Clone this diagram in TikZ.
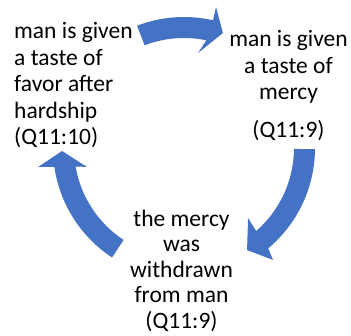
\documentclass[tikz,border=0pt]{standalone}
\usepackage{fontspec}
\setmainfont{Carlito}
\definecolor{smartblue}{HTML}{4472C4}
\tikzset{
  cyclearrow/.style={fill=smartblue, draw=none},
  cycletext/.style={inner sep=0pt, font=\fontsize{23.5pt}{26.5pt}\selectfont, text=black}
}
\begin{document}
\begin{tikzpicture}[x=1pt,y=1pt]
\useasboundingbox (0,0) rectangle (351,335);
% texts (base anchor = baseline of the last line)
\node[cycletext, align=left, anchor=base west] (favor) at (14,190)
  {man is given\\a taste of\\favor after\\hardship\\(Q11:10)};
\node[cycletext, align=center, anchor=base] (mercy) at (288.5,197.5)
  {man is given\\a taste of\\mercy\\[11pt](Q11:9)};
\node[cycletext, font=\fontsize{23.5pt}{25.5pt}\selectfont, align=center, anchor=base] (withdrawn) at (181.5,7)
  {the mercy\\was\\withdrawn\\from man\\(Q11:9)};
% circular arrows
\begin{scope}[shift={(184,187)}]
  \fill[cyclearrow] (111:131pt) arc[start angle=111, end angle=77.2, radius=131pt]
    -- (77.2:144.6pt) -- (71.3:121.4pt) -- (81.6:96pt) -- (78.3:110pt)
    arc[start angle=78.3, end angle=111, radius=110pt] -- cycle;
  \fill[cyclearrow] (-0.5:131pt) arc[start angle=-0.5, end angle=-50, radius=131pt]
    -- (-51.5:143pt) -- (-58.3:120pt) -- (-47.6:95pt) -- (-49:110pt)
    arc[start angle=-49, end angle=-0.5, radius=110pt] -- cycle;
  \fill[cyclearrow] (236.7:131pt) arc[start angle=236.7, end angle=188.3, radius=131pt]
    -- (187.4:147pt) -- (181.4:122pt) -- (191:99pt) -- (189.7:110pt)
    arc[start angle=189.7, end angle=236.7, radius=110pt] -- cycle;
\end{scope}
\end{tikzpicture}
\end{document}
